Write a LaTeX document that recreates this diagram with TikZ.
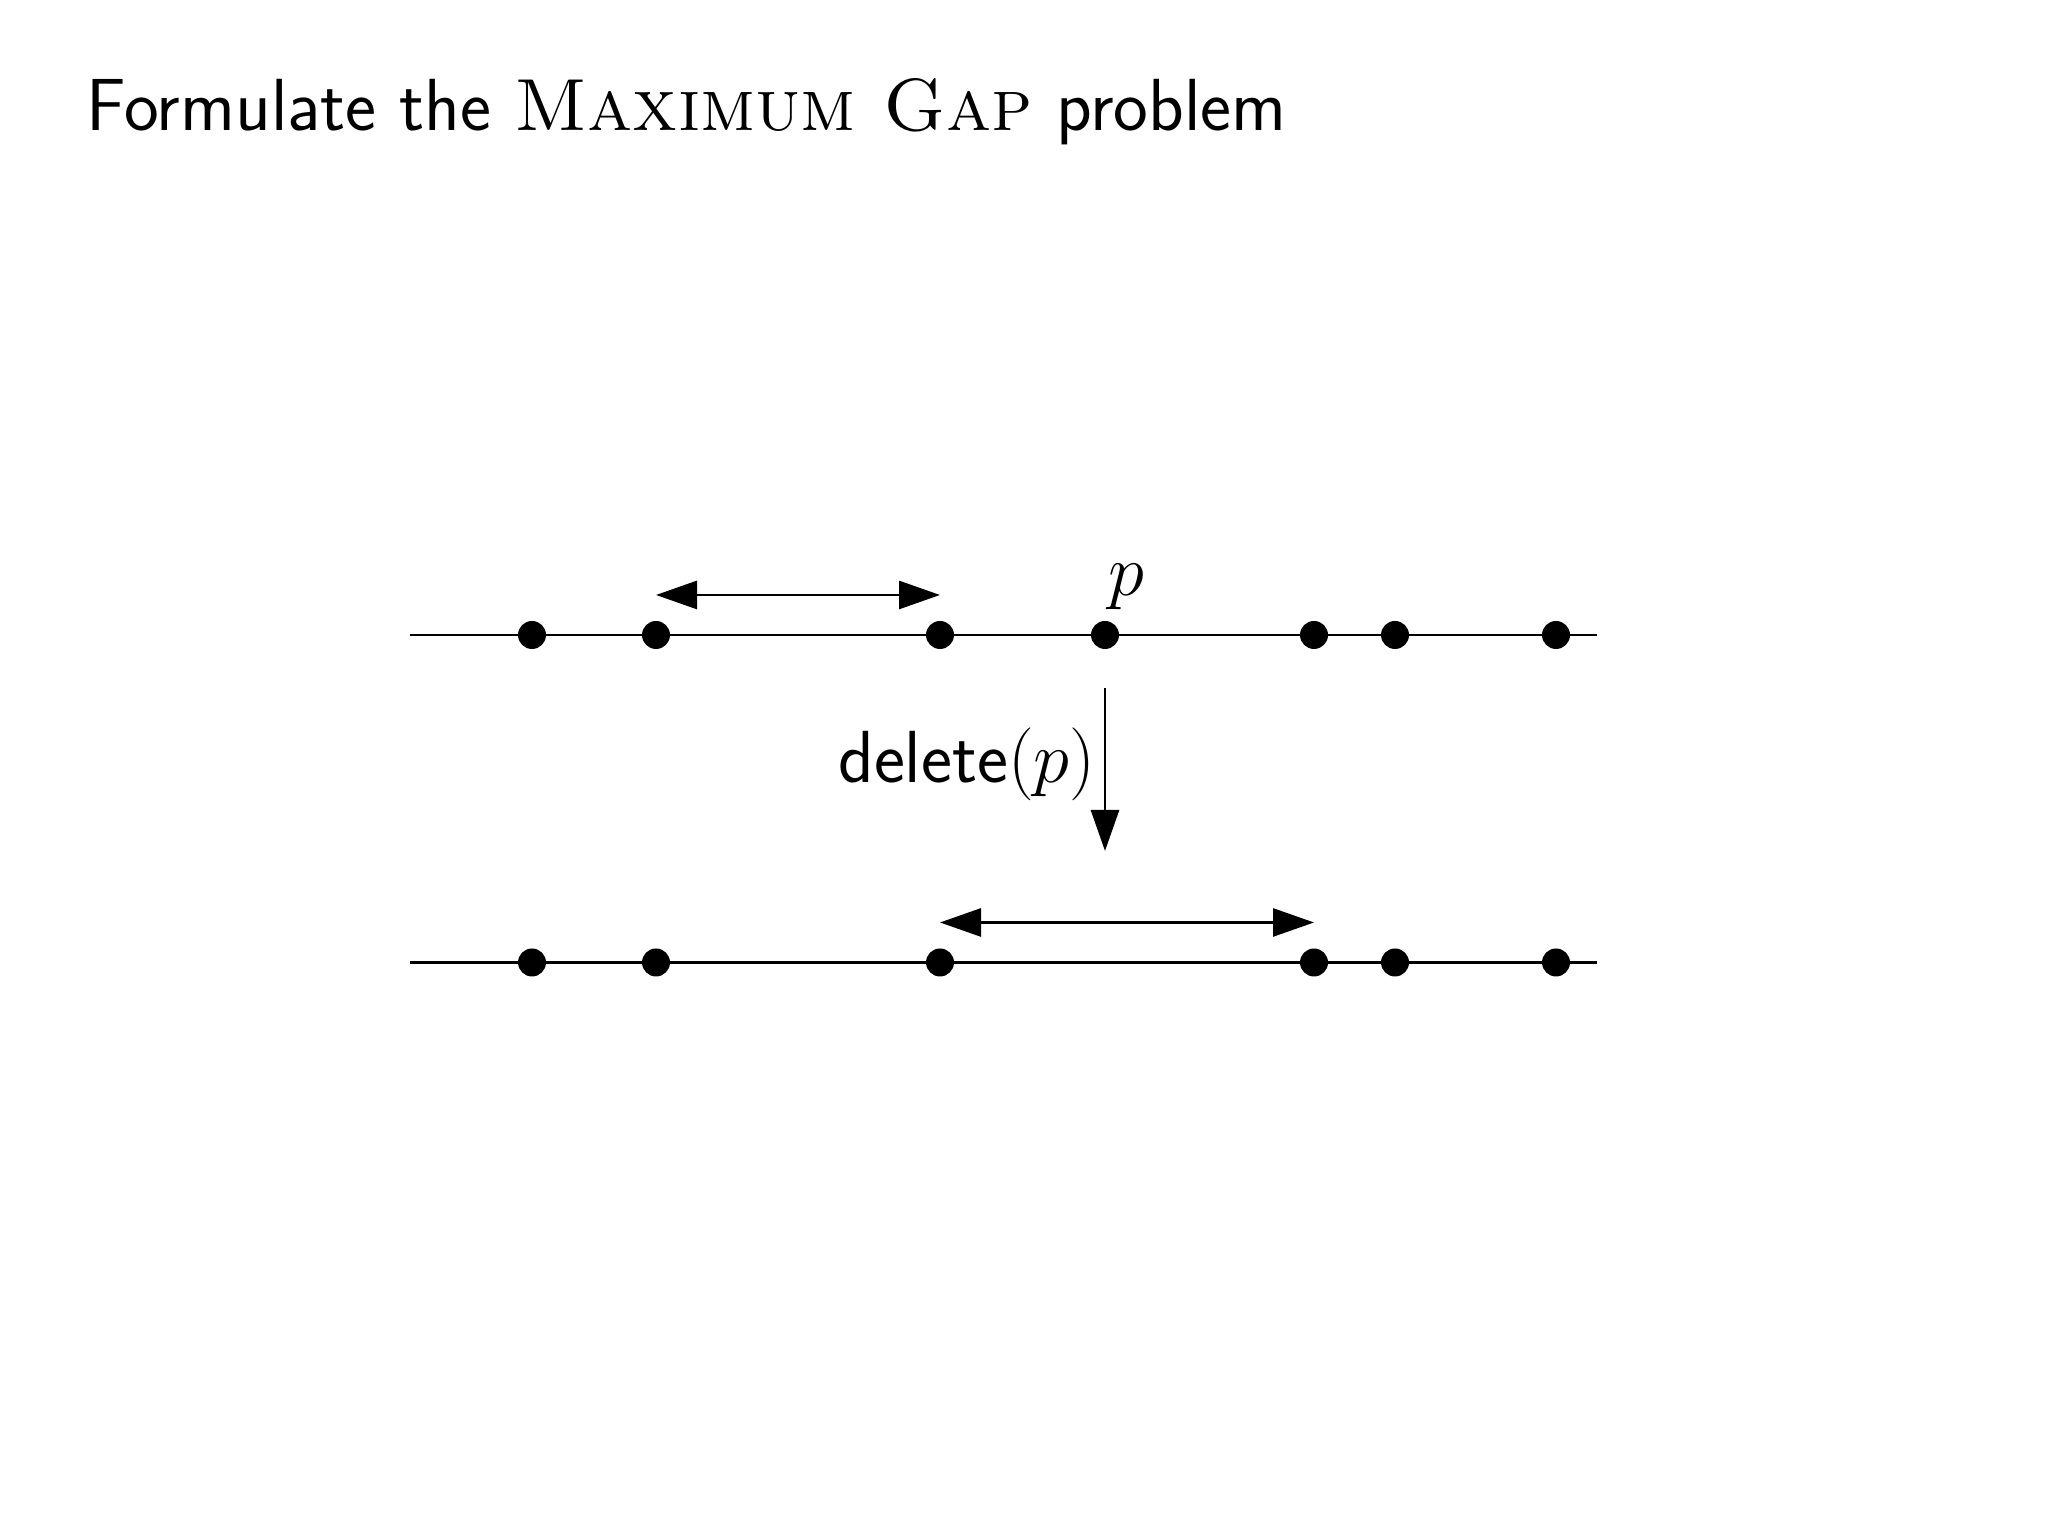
\documentclass[tikz,border=0pt]{standalone}
\usetikzlibrary{arrows.meta,positioning}

\begin{document}
\begin{tikzpicture}[>={Triangle[length=4.1mm,width=2.8mm]},
  line width=0.8pt,
  dot/.style={circle,fill=black,draw=none,inner sep=0pt,minimum size=2.8mm},
  big/.style={font=\fontsize{21}{25}\selectfont}]
\useasboundingbox (0,0) rectangle (20.48,15.36);
\node[big,anchor=base west,inner sep=0pt] (title) at (0.85,14.05)
  {\sffamily Formulate the {\rmfamily\textsc{Maximum Gap}} problem};
% before the deletion
\coordinate (L1) at (4.10,9.01);
\coordinate (R1) at (15.97,9.01);
\draw (L1) -- (R1);
\node[dot] (A1) at (5.32,9.01) {};
\node[dot] (A2) at (6.56,9.01) {};
\node[dot] (A3) at (9.40,9.01) {};
\node[dot] (A4) at (11.05,9.01) {};
\node[dot] (A5) at (13.14,9.01) {};
\node[dot] (A6) at (13.95,9.01) {};
\node[dot] (A7) at (15.56,9.01) {};
\node[big,above=-0.3mm of A4,xshift=2.1mm] (P) {$p$};
\draw[<->] ([yshift=4mm]A2.center) -- ([yshift=4mm]A3.center);
% the operation
\coordinate (S) at (11.05,8.48);
\coordinate (E) at (11.05,6.85);
\draw[->] (S) -- node[big,left,pos=0.47,inner sep=0.8mm] (del) {\sffamily delete$(p)$} (E);
% after the deletion
\coordinate (L2) at (4.10,5.735);
\coordinate (R2) at (15.97,5.735);
\draw (L2) -- (R2);
\node[dot] (B1) at (5.32,5.735) {};
\node[dot] (B2) at (6.56,5.735) {};
\node[dot] (B3) at (9.40,5.735) {};
\node[dot] (B5) at (13.14,5.735) {};
\node[dot] (B6) at (13.95,5.735) {};
\node[dot] (B7) at (15.56,5.735) {};
\draw[<->] ([yshift=4mm]B3.center) -- ([yshift=4mm]B5.center);
\end{tikzpicture}
\end{document}
